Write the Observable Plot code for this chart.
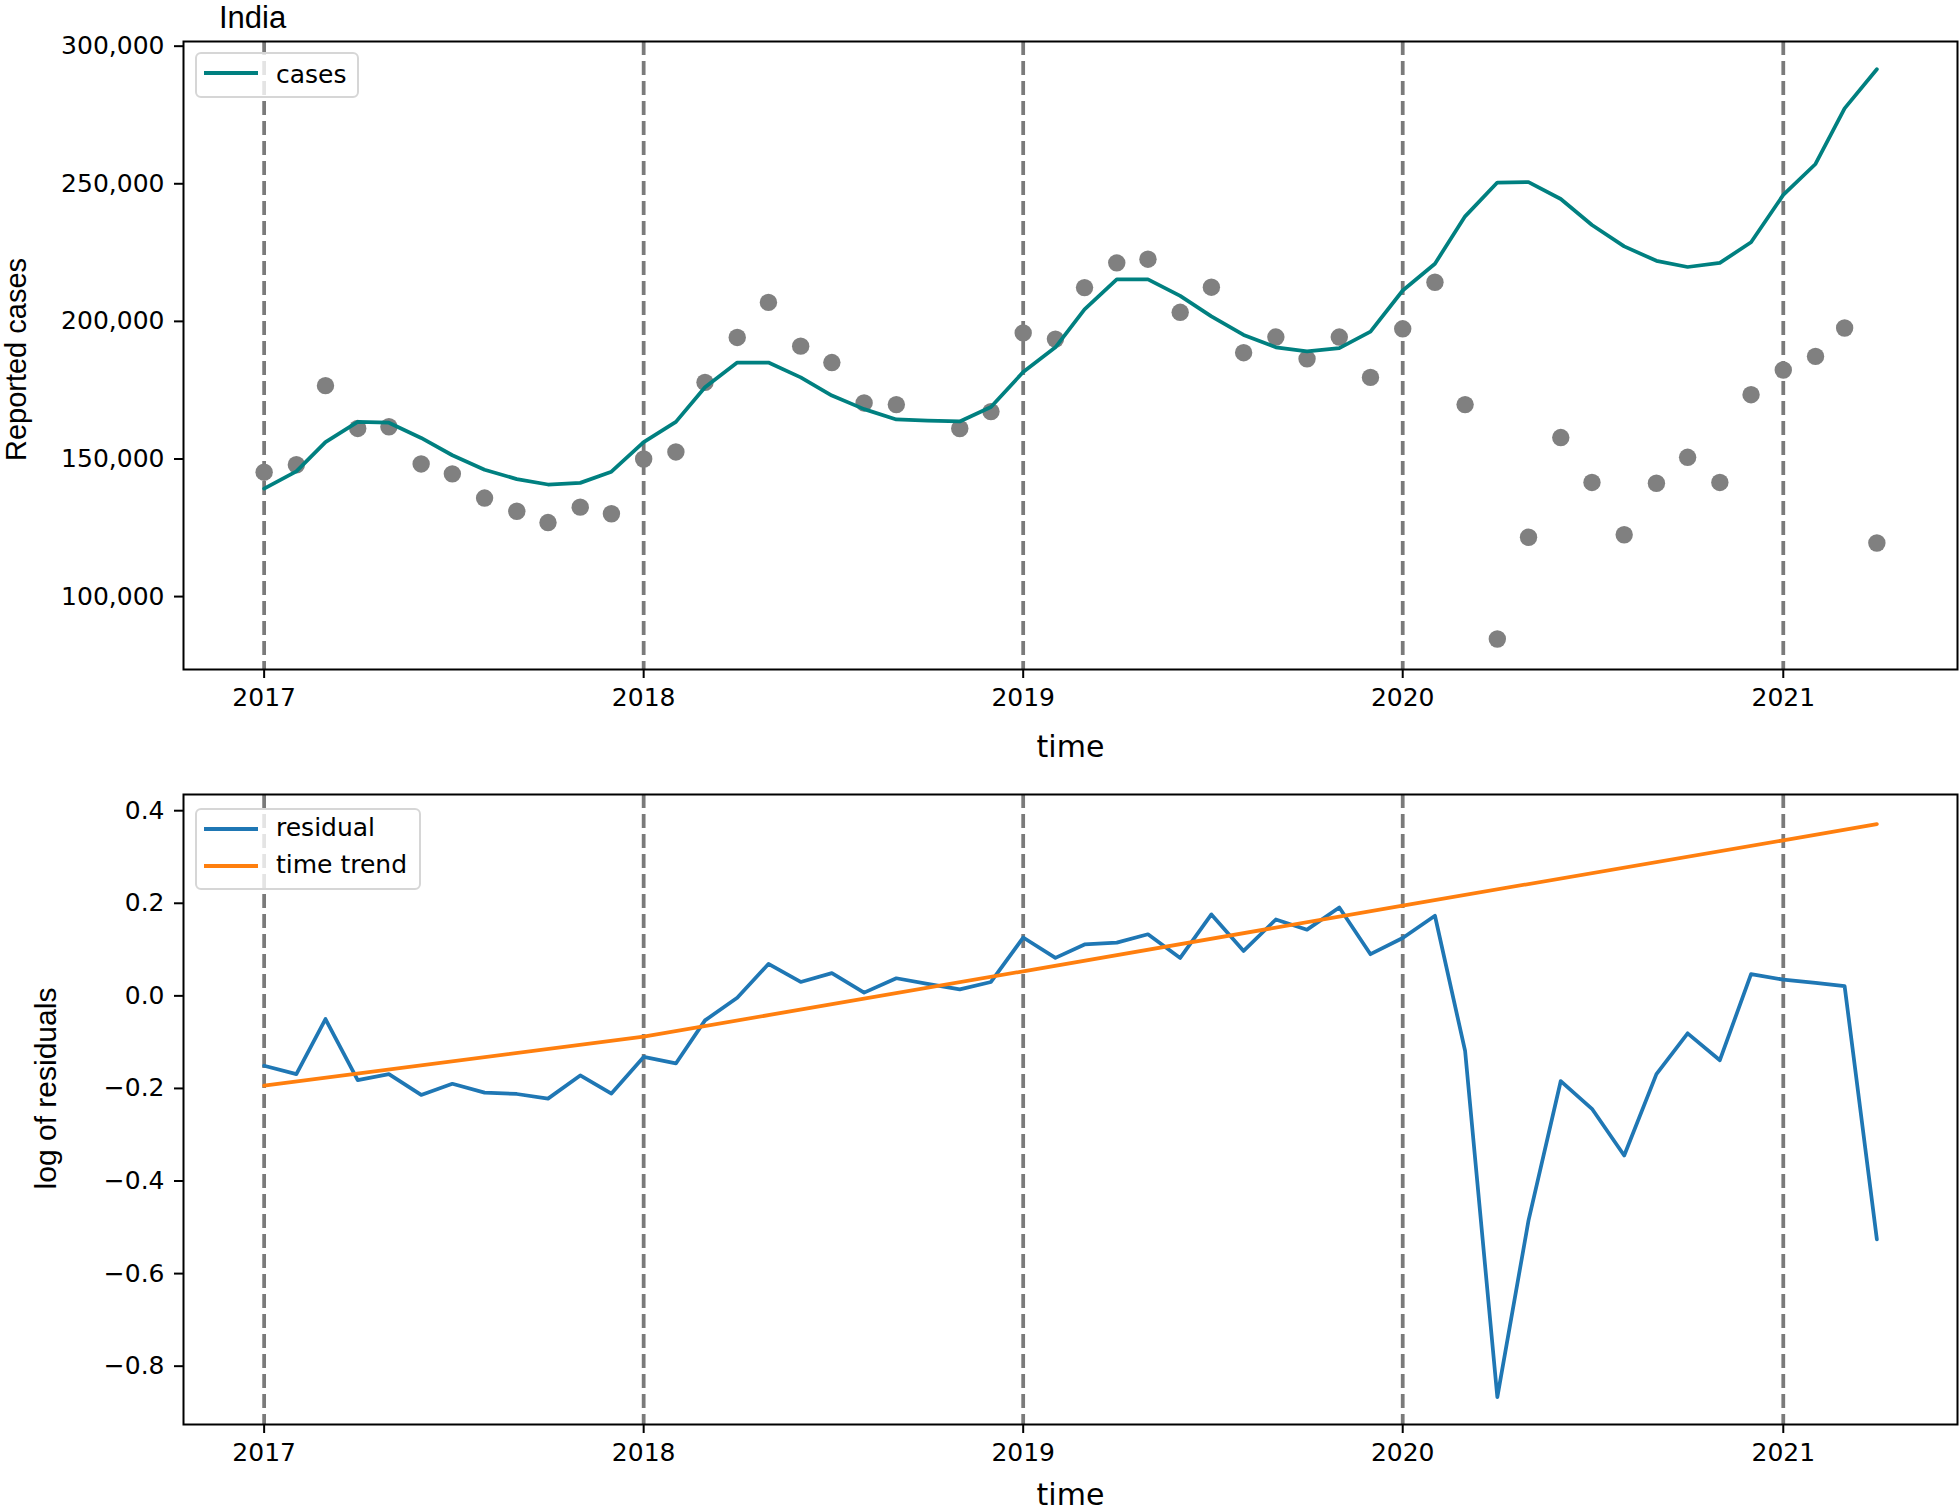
<!DOCTYPE html>
<html>
<head>
<meta charset="utf-8">
<script src="https://cdn.jsdelivr.net/npm/d3@7"></script>
<script src="https://cdn.jsdelivr.net/npm/@observablehq/plot@0.6"></script>
<style>
  body { margin: 0; background: #fff; }
  #wrap { position: relative; width: 1960px; height: 1510px; overflow: hidden; font-family: "DejaVu Sans"; }
  #top, #bottom { position: absolute; left: 0; }
  #top { top: 0; }
  #bottom { top: 775px; }
  .title { position: absolute; left: 219px; top: 2px; font: 31px/31px "Liberation Sans"; color: #000; white-space: nowrap; }
  .legend { position: absolute; box-sizing: border-box; border: 2px solid #d6d6d6; border-radius: 6px; background: rgba(255,255,255,0.8); }
  .sw { position: absolute; height: 4px; width: 54px; }
  .lab { position: absolute; font: 25px/25px "DejaVu Sans"; color: #000; white-space: nowrap; }
</style>
</head>
<body>
<div id="wrap">
  <div id="top"></div>
  <div id="bottom"></div>
  <div class="title">India</div>
  <div class="legend" style="left:195px;top:52px;width:164px;height:46px">
    <div class="sw" style="left:7px;top:17px;background:teal"></div>
    <div class="lab" style="left:79px;top:8px">cases</div>
  </div>
  <div class="legend" style="left:195px;top:808px;width:226px;height:82px">
    <div class="sw" style="left:7px;top:17px;background:#1f77b4"></div>
    <div class="lab" style="left:79px;top:5px">residual</div>
    <div class="sw" style="left:7px;top:54px;background:#ff7f0e"></div>
    <div class="lab" style="left:79px;top:42px">time trend</div>
  </div>
</div>
<script>
// ---- data ----
const months = [
  "2017-01","2017-02","2017-03","2017-04","2017-05","2017-06","2017-07","2017-08","2017-09","2017-10","2017-11","2017-12",
  "2018-01","2018-02","2018-03","2018-04","2018-05","2018-06","2018-07","2018-08","2018-09","2018-10","2018-11","2018-12",
  "2019-01","2019-02","2019-03","2019-04","2019-05","2019-06","2019-07","2019-08","2019-09","2019-10","2019-11","2019-12",
  "2020-01","2020-02","2020-03","2020-04","2020-05","2020-06","2020-07","2020-08","2020-09","2020-10","2020-11","2020-12",
  "2021-01","2021-02","2021-03","2021-04"
];
// observed reported cases (grey dots); Oct 2018 has no dot
const observed = [
  145200, 147900, 176650, 161100, 161700, 148200, 144600, 135800, 131000, 126900, 132500, 130100,
  150000, 152550, 177850, 194160, 206900, 191000, 185030, 170360, 169760, null, 161080, 167220,
  195810, 193560, 212270, 221260, 222600, 203290, 212420, 188620, 194310, 186380, 194310, 179640,
  197310, 214220, 169760, 84580, 121560, 157790, 141470, 122460, 141170, 150600, 141470, 173350,
  182340, 187280, 197600, 119460
];
// fitted "cases" line
const fitted = [
  139220, 145500, 156140, 163470, 163170, 157640, 151350, 146110, 142670, 140720, 141320, 145360,
  156140, 163470, 176050, 185030, 185030, 179640, 173060, 168120, 164370, 163920, 163620, 168860,
  181590, 190570, 204340, 215270, 215270, 209280, 201800, 195060, 190570, 189070, 190270, 196260,
  211230, 220960, 238170, 250450, 250600, 244460, 235030, 227250, 222010, 219760, 221260, 228740,
  245960, 257190, 277400, 291620
];
// log of residuals
const residual = [
  -0.151, -0.169, -0.050, -0.182, -0.169, -0.214, -0.190, -0.209, -0.212, -0.222, -0.172, -0.211,
  -0.132, -0.146, -0.053, -0.004, 0.069, 0.030, 0.049, 0.007, 0.038, 0.026, 0.014, 0.030,
  0.126, 0.082, 0.111, 0.115, 0.133, 0.082, 0.176, 0.097, 0.165, 0.143, 0.191, 0.090,
  0.125, 0.173, -0.119, -0.867, -0.485, -0.184, -0.244, -0.345, -0.169, -0.081, -0.139, 0.047,
  0.035, 0.028, 0.021, -0.526
];
// time trend (straight segments)
const trendMonths = ["2017-01", "2018-01", "2019-01", "2020-01", "2021-01", "2021-04"];
const trendValues = [-0.194, -0.088, 0.053, 0.195, 0.336, 0.371];

const years = [2017, 2018, 2019, 2020, 2021];
const casesTicks = [100000, 150000, 200000, 250000, 300000];
const residTicks = [-0.8, -0.6, -0.4, -0.2, 0.0, 0.2, 0.4];

// ---- build tables ----
const parse = d3.utcParse("%Y-%m");
const dates = months.map(parse);
const topData = dates.map((d, i) => ({date: d, obs: observed[i], fit: fitted[i]}));
const residData = dates.map((d, i) => ({date: d, value: residual[i]}));
const trendData = trendMonths.map((m, i) => ({date: parse(m), value: trendValues[i]}));
const yearDates = years.map(y => new Date(Date.UTC(y, 0, 1)));

const first = dates[0], last = dates[dates.length - 1];
const pad = (last - first) * 0.05;
const xDomain = [new Date(+first - pad), new Date(+last + pad)];

const common = {
  width: 1960,
  marginLeft: 183,
  marginRight: 3,
  style: {fontFamily: "DejaVu Sans", fontSize: "25px", color: "#000", background: "transparent", overflow: "visible"}
};
const vline = {stroke: "#7a7a7a", strokeWidth: 3.75, strokeDasharray: "14,6"};
const xAxis = () => Plot.axisX({ticks: yearDates, tickFormat: d3.utcFormat("%Y"), tickSize: 9, tickPadding: 10, strokeWidth: 2, label: null});

const topPlot = Plot.plot({
  ...common,
  height: 775,
  marginTop: 41,
  marginBottom: 106,
  x: {type: "utc", domain: xDomain, label: null},
  y: {domain: [73500, 301700], label: null},
  marks: [
    Plot.ruleX(yearDates, vline),
    Plot.dot(topData, {x: "date", y: "obs", r: 8.7, fill: "#808080", stroke: "none"}),
    Plot.line(topData, {x: "date", y: "fit", stroke: "teal", strokeWidth: 3.75}),
    xAxis(),
    Plot.axisY({ticks: casesTicks, tickFormat: d3.format(","), tickSize: 9, tickPadding: 10, strokeWidth: 2, label: null}),
    Plot.text(["time"], {text: d => d, frameAnchor: "bottom", dy: 87, lineAnchor: "bottom", textAnchor: "middle", fontSize: 30}),
    Plot.text(["Reported cases"], {text: d => d, frameAnchor: "left", dx: -167, dy: 4, rotate: -90, textAnchor: "middle", lineAnchor: "middle", fontFamily: "Liberation Sans", fontSize: 29}),
    Plot.frame({stroke: "#000", strokeWidth: 2})
  ]
});
document.getElementById("top").appendChild(topPlot);

const bottomPlot = Plot.plot({
  ...common,
  height: 735,
  marginTop: 19,
  marginBottom: 86,
  x: {type: "utc", domain: xDomain, label: null},
  y: {domain: [-0.926, 0.435], label: null},
  marks: [
    Plot.ruleX(yearDates, vline),
    Plot.line(residData, {x: "date", y: "value", stroke: "#1f77b4", strokeWidth: 3.75}),
    Plot.line(trendData, {x: "date", y: "value", stroke: "#ff7f0e", strokeWidth: 3.75}),
    xAxis(),
    Plot.axisY({ticks: residTicks, tickFormat: d3.format(".1f"), tickSize: 9, tickPadding: 10, strokeWidth: 2, label: null}),
    Plot.text(["time"], {text: d => d, frameAnchor: "bottom", dy: 80, lineAnchor: "bottom", textAnchor: "middle", fontSize: 30}),
    Plot.text(["log of residuals"], {text: d => d, frameAnchor: "left", dx: -137, dy: -21, rotate: -90, textAnchor: "middle", lineAnchor: "middle", fontFamily: "Liberation Sans", fontSize: 30}),
    Plot.frame({stroke: "#000", strokeWidth: 2})
  ]
});
document.getElementById("bottom").appendChild(bottomPlot);
</script>
</body>
</html>
